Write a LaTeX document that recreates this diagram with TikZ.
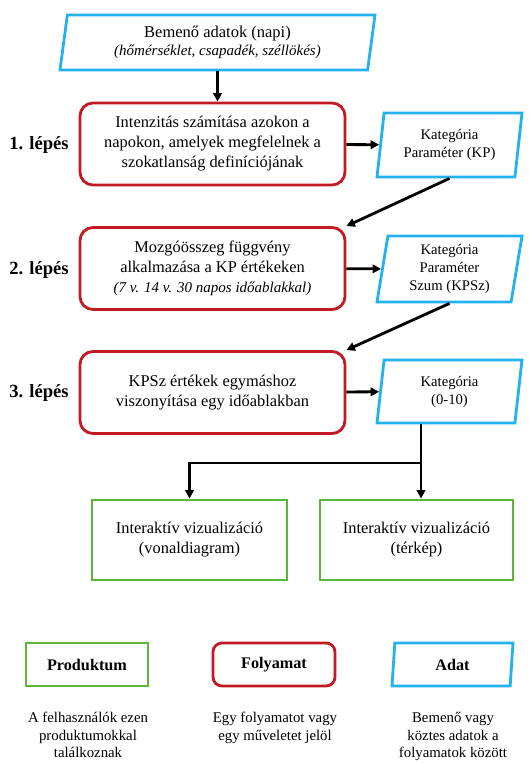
\documentclass[tikz,border=0pt]{standalone}
\usepackage{fontspec}
\setmainfont{Liberation Serif}
\usetikzlibrary{shapes.geometric,arrows.meta}
\definecolor{adatblue}{RGB}{35,178,235}
\definecolor{folyred}{RGB}{195,25,35}
\definecolor{prodgreen}{RGB}{95,180,60}

\begin{document}
\begin{tikzpicture}[x=1pt,y=-1pt,
  adat/.style={trapezium,trapezium left angle=78,trapezium right angle=102,
    trapezium stretches body,draw=adatblue,line width=2.8pt,inner sep=1pt,
    align=center,font=\fontsize{14.7}{18}\selectfont},
  folyamat/.style={rectangle,rounded corners=13pt,draw=folyred,line width=2.8pt,
    minimum width=265pt,minimum height=82pt,align=center,
    font=\fontsize{16.4}{20}\selectfont},
  produktum/.style={rectangle,draw=prodgreen,line width=2.8pt,align=center,
    font=\fontsize{16.4}{20}\selectfont},
  lepes/.style={font=\fontsize{18.6}{22}\selectfont\bfseries},
  leiras/.style={anchor=north,inner sep=0pt,align=center,
    font=\fontsize{14.8}{17.5}\selectfont},
  arr/.style={line width=2.8pt,-{Triangle[length=8.5pt,width=8.5pt]}}]

\useasboundingbox (0,0) rectangle (529,763);

%Input
\node[adat,minimum width=315pt,minimum height=55pt,font=\fontsize{16.5}{18}\selectfont] (input) at (217.5,42.5)
  {Bemenő adatok (napi)\\ {\fontsize{15}{18}\selectfont\itshape (hőmérséklet, csapadék, széllökés)}};

%Steps
\node[lepes] (l1) at (39,145) {1. lépés};
\node[lepes] (l2) at (39,270) {2. lépés};
\node[lepes] (l3) at (39,393) {3. lépés};

\node[folyamat] (p1) at (212.5,144) {Intenzitás számítása azokon a\\ napokon, amelyek megfelelnek a\\ szokatlanság definíciójának};
\node[folyamat] (p2) at (212.5,268.5) {Mozgóösszeg függvény\\ alkalmazása a KP értékeken\\ {\fontsize{15}{19}\selectfont\itshape (7 v. 14 v. 30 napos időablakkal)}};
\node[folyamat] (p3) at (212.5,392.5) {KPSz értékek egymáshoz\\ viszonyítása egy időablakban};

\node[adat,minimum width=145pt,minimum height=64pt] (kp) at (449.5,145) {Kategória\\ Paraméter (KP)};
\node[adat,minimum width=145pt,minimum height=66pt] (kpsz) at (449.5,269) {Kategória\\ Paraméter\\ Szum (KPSz)};
\node[adat,minimum width=145pt,minimum height=63pt] (kat) at (449.5,391.5) {Kategória\\ (0-10)};

%Products
\node[produktum,minimum width=195pt,minimum height=80pt] (viz1) at (189.5,540) {Interaktív vizualizáció\\ (vonaldiagram)};
\node[produktum,minimum width=193pt,minimum height=80pt] (viz2) at (416.5,540) {Interaktív vizualizáció\\ (térkép)};
\coordinate (split) at (421,463);

\draw[arr] (input.south) -- (input.south |- p1.north);
\draw (p1) edge[arr] (kp);
\draw (kp.south) edge[arr] (p2.north east);
\draw (p2) edge[arr] (kpsz);
\draw (kpsz.south) edge[arr] (p3.north east);
\draw (p3) edge[arr] (kat);
\draw[line width=2.8pt] (kat.south -| split) -- (split);
\draw[arr] (split) -| (viz1.north);
\draw[arr] (split) -- (split |- viz2.north);

%Legend
\node[produktum,minimum width=122pt,minimum height=43pt,font=\fontsize{16.2}{20}\selectfont\bfseries] (lp) at (87,664.5) {Produktum};
\node[folyamat,rounded corners=9pt,minimum width=122pt,minimum height=43pt,font=\fontsize{16.2}{20}\selectfont\bfseries] (lf) at (274,664.5) {Folyamat};
\node[adat,minimum width=121pt,minimum height=43pt,font=\fontsize{16.2}{20}\selectfont\bfseries] (la) at (452.5,664.5) {Adat};

\node[leiras] (dp) at (88,712) {A felhasználók ezen\\ produktumokkal\\ találkoznak};
\node[leiras] (df) at (275,712) {Egy folyamatot vagy\\ egy műveletet jelöl};
\node[leiras] (da) at (453,712) {Bemenő vagy\\ köztes adatok a\\ folyamatok között};

\end{tikzpicture}
\end{document}
